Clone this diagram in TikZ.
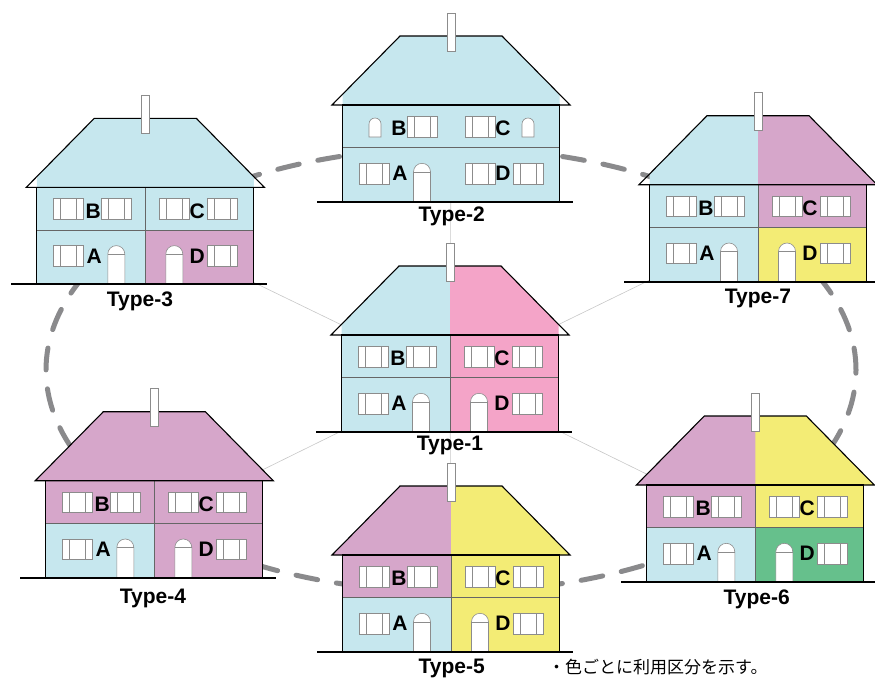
\documentclass[tikz,border=0pt]{standalone}
\usepackage{fontspec}
\setmainfont{Liberation Sans}
\newfontfamily\jpfont{Noto Sans CJK JP}

\definecolor{zBlue}{RGB}{198,231,238}
\definecolor{zPink}{RGB}{244,164,200}
\definecolor{zMauve}{RGB}{214,166,202}
\definecolor{zYellow}{RGB}{243,236,117}
\definecolor{zGreen}{RGB}{102,192,140}
\definecolor{ringgray}{RGB}{138,138,140}

\tikzset{
  wall/.style={draw=black, line width=1.1pt},
  divider/.style={draw=black!60, line width=0.6pt},
  win/.style={draw=black!45, fill=white, line width=0.6pt},
  winbar/.style={draw=black!45, line width=0.6pt},
  chim/.style={draw=black!45, fill=white, line width=0.6pt},
  groundline/.style={draw=black, line width=2pt},
  tag/.style={font=\bfseries\fontsize{21}{21}\selectfont, inner sep=0pt},
  typetag/.style={font=\bfseries\fontsize{21}{21}\selectfont, inner sep=0pt, anchor=base},
  spoke/.style={draw=black!22, line width=0.6pt},
  ring/.style={draw=ringgray, line width=5pt, line cap=round, dash pattern=on 22pt off 19pt},
}

% window with two glazing bars: centre x, sill y
\newcommand\hwin[2]{%
  \draw[win] ({#1-15},#2) rectangle ({#1+15},{#2+20.6});
  \draw[winbar] ({#1-8},#2) -- ({#1-8},{#2+20.6}) ({#1+8},#2) -- ({#1+8},{#2+20.6});}
% small arched window: centre x, sill y
\newcommand\harch[2]{%
  \draw[win] ({#1-6},#2) -- ({#1-6},{#2+13}) arc[start angle=180,end angle=0,radius=6pt] -- ({#1+6},#2) -- cycle;}
% arched door: centre x
\newcommand\hdoor[1]{%
  \draw[win] ({#1-8.5},0) -- ({#1-8.5},30.2) arc[start angle=180,end angle=0,radius=8.5pt] -- ({#1+8.5},0) -- cycle;
  \draw[winbar] ({#1-8.5},30.2) -- ({#1+8.5},30.2);}
% wall quarters: A (lower left), B (upper left), C (upper right), D (lower right)
\newcommand\hwalls[4]{%
  \fill[#1] (-108.5,0) rectangle (0.4,54.8);
  \fill[#2] (-108.5,54.5) rectangle (0.4,97);
  \fill[#3] (0,54.5) rectangle (108.5,97);
  \fill[#4] (0,0) rectangle (108.5,54.8);}
% roof halves: left colour, right colour, reach of each fill
\newcommand\hroof[4]{%
  \begin{scope}\clip (-#3,96) rectangle (0.5,167);
    \fill[#1] (-119,97) -- (-51,166) -- (0.5,166) -- (0.5,97) -- cycle;\end{scope}
  \begin{scope}\clip (0,96) rectangle (#4,167);
    \fill[#2] (119,97) -- (51,166) -- (0,166) -- (0,97) -- cycle;\end{scope}}
% outlines, floor line, chimney and ground
\newcommand\hframe{%
  \draw[divider] (-108.5,54.5) -- (108.5,54.5);
  \draw[wall] (-108.5,0) rectangle (108.5,97);
  \draw[wall] (-119,97) -- (-51,166) -- (51,166) -- (119,97) -- cycle;
  \draw[chim] (-4.2,151) rectangle (4.2,189);
  \draw[groundline] (-134,0) -- (122,0);}
\newcommand\hmid{\draw[divider] (0,0) -- (0,97);}
\newcommand\hstdwins{%
  \hwin{-77}{65}\hwin{-29}{65}\hwin{29}{65}\hwin{77}{65}%
  \hwin{-77}{18}\hwin{77}{18}\hdoor{-29}\hdoor{29}}
\newcommand\hletters[1]{%
  \node[tag] (#1B) at (-52,73.5) {B};
  \node[tag] (#1C) at (52,73.5) {C};
  \node[tag] (#1A) at (-51,28.5) {A};
  \node[tag] (#1D) at (52,28.5) {D};}

\begin{document}
\begin{tikzpicture}[x=1pt,y=1pt]
\useasboundingbox (0,0) rectangle (875,-681);

% floor-level centres of the seven houses
\coordinate (c1) at (450,-377.5);
\coordinate (c2) at (451,-147.5);
\coordinate (c3) at (145.3,-229.8);
\coordinate (c4) at (154.3,-523.2);
\coordinate (c5) at (451,-597.5);
\coordinate (c6) at (755.3,-527.5);
\coordinate (c7) at (758,-227.2);

% spokes from Type-1 to the others
\foreach \k in {2,...,7} \draw[spoke] (c1) -- (c\k);

% dashed ring through the outer houses
\draw[ring] (451,-370) ellipse [x radius=405pt, y radius=222pt];

% Type-1
\begin{scope}[shift={(450,-432)}]
  \hroof{zBlue}{zPink}{108.5}{108.5}
  \hwalls{zBlue}{zBlue}{zPink}{zPink}
  \hmid\hstdwins\hframe\hletters{t1}
\end{scope}
\node[typetag] (lab1) at (450,-450.7) {Type-1};

% Type-2
\begin{scope}[shift={(451,-202)}]
  \hroof{zBlue}{zBlue}{108.5}{108.5}
  \hwalls{zBlue}{zBlue}{zBlue}{zBlue}
  \harch{-76}{65}\hwin{-29}{65}\hwin{29}{65}\harch{77}{65}
  \hwin{-77}{18}\hdoor{-29}\hwin{29}{18}\hwin{77}{18}
  \hframe\hletters{t2}
\end{scope}
\node[typetag] (lab2) at (451.7,-221.7) {Type-2};

% Type-3
\begin{scope}[shift={(145.3,-284.3)}]
  \hroof{zBlue}{zBlue}{108.5}{108.5}
  \hwalls{zBlue}{zBlue}{zBlue}{zMauve}
  \hmid\hstdwins\hframe\hletters{t3}
\end{scope}
\node[typetag] (lab3) at (140,-306.5) {Type-3};

% Type-4
\begin{scope}[shift={(154.3,-577.7)}]
  \hroof{zMauve}{zMauve}{119}{119}
  \hwalls{zBlue}{zMauve}{zMauve}{zMauve}
  \hmid\hstdwins\hframe\hletters{t4}
\end{scope}
\node[typetag] (lab4) at (153,-603) {Type-4};

% Type-5
\begin{scope}[shift={(451,-652)}]
  \hroof{zMauve}{zYellow}{119}{119}
  \hwalls{zBlue}{zMauve}{zYellow}{zYellow}
  \hmid\hstdwins\hframe\hletters{t5}
\end{scope}
\node[typetag] (lab5) at (451.7,-673) {Type-5};

% Type-6
\begin{scope}[shift={(755.3,-582)}]
  \hroof{zMauve}{zYellow}{119}{119}
  \hwalls{zBlue}{zMauve}{zYellow}{zGreen}
  \hmid\hstdwins\hframe\hletters{t6}
\end{scope}
\node[typetag] (lab6) at (756.7,-604) {Type-6};

% Type-7
\begin{scope}[shift={(758,-281.7)}]
  \hroof{zBlue}{zMauve}{108.5}{119}
  \hwalls{zBlue}{zBlue}{zMauve}{zYellow}
  \hmid\hstdwins\hframe\hletters{t7}
\end{scope}
\node[typetag] (lab7) at (758,-303) {Type-7};

% note
\node[anchor=base west, inner sep=0pt, font=\jpfont\fontsize{17}{17}\selectfont] (note) at (548,-673.5) {・色ごとに利用区分を示す。};
\end{tikzpicture}
\end{document}
